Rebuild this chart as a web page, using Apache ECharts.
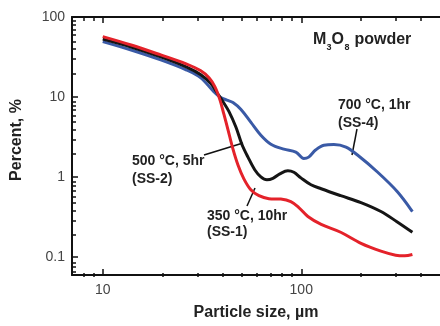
<!DOCTYPE html>
<html><head><meta charset="utf-8">
<script src="https://cdn.jsdelivr.net/npm/echarts@6/dist/echarts.min.js"></script>
<style>html,body{margin:0;padding:0;background:#fff}#c{width:440px;height:326px}</style>
</head><body><div id="c"></div>
<script>
const FONT = '"Liberation Sans", Arial, sans-serif';

// SS-1 : 350 °C, 10hr (red)
const ss1X = [10, 13.9, 19.6, 26.3, 31.2, 34.3, 36.7, 38.9, 40.8, 42.7, 45.3, 48.0, 51.4, 55.7, 61.2, 68.7, 78.9, 88.6, 97.2, 108, 126, 158, 200, 252, 299, 332, 363];
const ss1Y = [56.9, 44.7, 33.6, 26, 21.3, 17.4, 13.5, 9.3, 6.07, 3.96, 2.24, 1.42, 0.953, 0.697, 0.587, 0.539, 0.532, 0.494, 0.417, 0.323, 0.257, 0.205, 0.149, 0.119, 0.106, 0.104, 0.108];
// SS-2 : 500 °C, 5hr (black)
const ss2X = [10, 13.9, 19.6, 26.3, 31.2, 35.1, 37.6, 40.3, 43.2, 46.9, 50.2, 53.9, 58.4, 62.6, 67.1, 72, 78, 85.6, 91.8, 99.6, 112, 126, 158, 200, 252, 302, 363];
const ss2Y = [53, 42.2, 31.7, 23.8, 19.0, 14.7, 11.4, 8.8, 6.62, 4.2, 2.58, 1.78, 1.23, 1.01, 0.927, 0.966, 1.10, 1.20, 1.15, 0.98, 0.803, 0.716, 0.587, 0.481, 0.372, 0.28, 0.205];
// SS-4 : 700 °C, 1hr (blue)
const ss4X = [10, 13.9, 19.6, 26.3, 31.2, 35.9, 39.3, 42.2, 45.3, 49.7, 55.8, 62.6, 70.3, 81.7, 93.9, 103, 109, 118, 130, 146, 168, 192, 242, 305, 363];
const ss4Y = [49.3, 38.7, 29.1, 21.9, 17.4, 12.0, 9.86, 9.18, 8.55, 7.0, 4.83, 3.34, 2.58, 2.24, 2.06, 1.71, 1.78, 2.18, 2.51, 2.55, 2.37, 1.89, 1.16, 0.658, 0.372];

const xMajor = [10, 100];
const xMinor = [8, 9, 20, 30, 40, 50, 60, 70, 80, 90, 200, 300, 400];
const yMajor = [0.1, 1, 10, 100];
const yMinor = [0.07, 0.08, 0.09, 0.2, 0.3, 0.4, 0.5, 0.6, 0.7, 0.8, 0.9, 2, 3, 4, 5, 6, 7, 8, 9, 20, 30, 40, 50, 60, 70, 80, 90];

const X_MIN = 7, X_MAX = 500, Y_MIN = 0.06, Y_MAX = 100;
const GRID = {left: 72, top: 17, right: 0, bottom: 49};

const fmt = v => String(+(+v).toPrecision(3));

function xAx(grid, pos, ticks, len, line, labels) {
  return {
    type: 'log', logBase: 10, min: X_MIN, max: X_MAX, gridIndex: grid, position: pos,
    axisLine: {show: line, onZero: false, lineStyle: {color: '#111', width: 2}},
    axisTick: {show: true, inside: true, length: len, customValues: ticks, lineStyle: {color: '#111', width: 1.5}},
    axisLabel: labels ? {show: true, customValues: xMajor, formatter: fmt, margin: 8, color: '#444', fontSize: 14, fontFamily: FONT} : {show: false},
    splitLine: {show: false}, minorTick: {show: false},
    name: labels ? 'Particle size, µm' : '', nameLocation: 'middle', nameGap: 30,
    nameTextStyle: {fontSize: 16, fontWeight: 'bold', color: '#222', fontFamily: FONT}
  };
}
function yAx(grid, ticks, len, line, labels) {
  return {
    type: 'log', logBase: 10, min: Y_MIN, max: Y_MAX, gridIndex: grid, position: 'left',
    axisLine: {show: line, onZero: false, lineStyle: {color: '#111', width: 2}},
    axisTick: {show: true, inside: true, length: len, customValues: ticks, lineStyle: {color: '#111', width: 1.5}},
    axisLabel: labels ? {show: true, customValues: yMajor, formatter: fmt, margin: 7, color: '#444', fontSize: 14, fontFamily: FONT} : {show: false},
    splitLine: {show: false}, minorTick: {show: false},
    name: labels ? 'Percent, %' : '', nameLocation: 'middle', nameGap: 47, nameRotate: 90,
    nameTextStyle: {fontSize: 16, fontWeight: 'bold', color: '#222', fontFamily: FONT, padding: [0, 0, 0, 12]}
  };
}

const pairs = (xs, ys) => xs.map((x, i) => [x, ys[i]]);
function line(name, xs, ys, color) {
  return {type: 'line', name, xAxisIndex: 0, yAxisIndex: 0, data: pairs(xs, ys), symbol: 'none', smooth: 0.35,
    lineStyle: {color, width: 3}, itemStyle: {color}, animation: false};
}

const chart = echarts.init(document.getElementById('c'), null, {renderer: 'canvas'});
chart.setOption({
  animation: false,
  backgroundColor: '#fff',
  grid: [Object.assign({}, GRID), Object.assign({}, GRID)],
  xAxis: [
    xAx(0, 'bottom', xMajor, 6, true, true),
    xAx(0, 'top', xMajor, 6, true, false),
    xAx(1, 'bottom', xMinor, 4, false, false),
    xAx(1, 'top', xMinor, 4, false, false)
  ],
  yAxis: [
    yAx(0, yMajor, 6, true, true),
    yAx(1, yMinor, 4, false, false)
  ],
  series: [
    line('SS-4', ss4X, ss4Y, '#3a5aa6'),
    line('SS-2', ss2X, ss2Y, '#151515'),
    line('SS-1', ss1X, ss1Y, '#e4222a')
  ]
});

const tf = 'bold 14px ' + FONT;
const t = (x, y, text, font) => ({type: 'text', x, y, style: {text, font: font || tf, fill: '#222', verticalAlign: 'middle', align: 'left'}});
const ln = (x1, y1, x2, y2) => ({type: 'line', shape: {x1, y1, x2, y2}, style: {stroke: '#111', lineWidth: 1.5}});
const big = 'bold 16px ' + FONT, sub = 'bold 9px ' + FONT;
chart.setOption({
  graphic: [
    t(313, 40, 'M', big), t(326.5, 48, '3', sub), t(331.5, 40, 'O', big), t(344.5, 48, '8', sub), t(350, 40, ' powder', big),
    t(338, 105, '700 °C, 1hr'), t(338, 123, '(SS-4)'), ln(357, 129, 352, 155),
    t(132, 161, '500 °C, 5hr'), t(132, 179, '(SS-2)'), ln(204, 155, 243, 143),
    t(207, 216, '350 °C, 10hr'), t(207, 232, '(SS-1)'), ln(247, 206, 255, 188)
  ]
});
</script>
</body></html>
